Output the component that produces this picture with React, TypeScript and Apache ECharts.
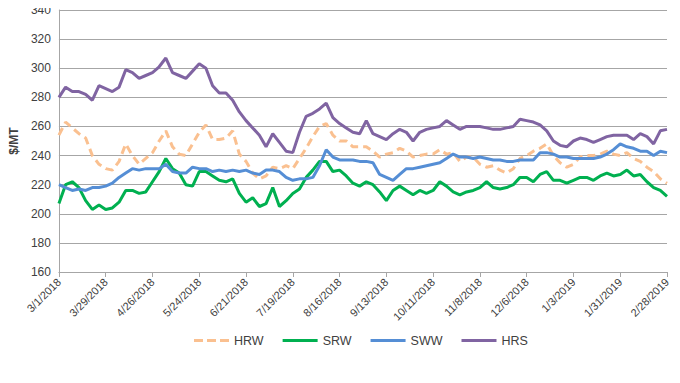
import React, { useEffect, useRef } from "react";
import * as echarts from "echarts";

// Day offsets from 3/1/2018 (sampled every 4 days)
const STEP = 4;
const days: number[] = Array.from({ length: 92 }, (_, i) => i * STEP);

const seriesNames = ["HRW", "SRW", "SWW", "HRS"];

const hrw = [
  254, 263, 259, 255, 252, 240, 234, 231, 230, 236,
  248, 240, 234, 238, 242, 250, 257, 246, 241, 240,
  248, 256, 261, 251, 251, 252, 257, 241, 236, 228,
  224, 226, 232, 231, 233, 231, 238, 245, 253, 260,
  262, 254, 250, 250, 246, 246, 246, 243, 239, 241,
  242, 245, 243, 239, 240, 241, 241, 244, 241, 242,
  236, 239, 239, 234, 232, 233, 230, 228, 231, 238,
  240, 243, 245, 248, 240, 235, 232, 234, 239, 240,
  240, 241, 243, 241, 240, 242, 238, 236, 232, 229,
  224, 221,
];

const srw = [
  207, 220, 222, 218, 209, 203, 206, 203, 204, 208,
  216, 216, 214, 215, 222, 229, 238, 231, 228, 220,
  219, 229, 229, 226, 223, 222, 224, 214, 208, 211,
  205, 207, 218, 205, 209, 214, 217, 225, 230, 236,
  236, 229, 230, 226, 221, 219, 222, 220, 215, 209,
  216, 219, 216, 213, 216, 214, 216, 222, 219, 215,
  213, 215, 216, 218, 222, 218, 217, 218, 220, 225,
  225, 222, 227, 229, 223, 223, 221, 223, 225, 225,
  223, 226, 228, 226, 227, 230, 226, 227, 222, 218,
  216, 212,
];

const sww = [
  220, 218, 216, 217, 216, 218, 218, 219, 221, 225,
  228, 231, 230, 231, 231, 231, 234, 229, 228, 228,
  232, 231, 231, 229, 230, 229, 230, 229, 230, 228,
  227, 230, 230, 229, 225, 223, 224, 224, 225, 233,
  244, 239, 237, 237, 237, 236, 236, 235, 227, 225,
  223, 227, 231, 231, 232, 233, 234, 235, 238, 241,
  239, 239, 238, 239, 238, 237, 237, 236, 236, 237,
  237, 237, 242, 242, 241, 239, 239, 238, 238, 238,
  238, 239, 241, 244, 248, 246, 245, 243, 243, 240,
  243, 242,
];

const hrs = [
  280, 287, 284, 284, 282, 278, 288, 286, 284, 287,
  299, 297, 293, 295, 297, 301, 307, 297, 295, 293,
  298, 303, 300, 288, 283, 283, 278, 270, 264, 259,
  254, 246, 255, 249, 243, 242, 256, 267, 269, 272,
  276, 266, 262, 259, 256, 255, 264, 255, 253, 251,
  255, 258, 256, 250, 256, 258, 259, 260, 264, 261,
  258, 260, 260, 260, 259, 258, 258, 259, 260, 265,
  264, 263, 261, 257, 250, 247, 246, 250, 252, 251,
  249, 251, 253, 254, 254, 254, 251, 255, 253, 248,
  257, 258,
];

const yTicks = { min: 160, max: 340, interval: 20 };
const xTicks = { min: 0, max: 364, interval: 28 };

const colors = ["#fac090", "#00b050", "#558ed5", "#8064a2"];

const DASH_ICON = "path://M0,0h9v3h-9z M13,0h9v3h-9z M26,0h9v3h-9z";
const SOLID_ICON = "path://M0,0h35v3h-35z";

function fmtDate(v: number): string {
  const t = Date.UTC(2018, 2, 1) + v * 86400000;
  const d = new Date(t);
  return `${d.getUTCMonth() + 1}/${d.getUTCDate()}/${d.getUTCFullYear()}`;
}

export default function App() {
  const ref = useRef<HTMLDivElement>(null);
  useEffect(() => {
    if (!ref.current) return;
    const chart = echarts.init(ref.current, undefined, { renderer: "svg" });
    const all = [hrw, srw, sww, hrs];
    const font = "'Liberation Sans', Arial, sans-serif";
    chart.setOption({
      animation: false,
      textStyle: { fontFamily: font },
      grid: { left: 52, right: 13, top: 10, bottom: 111, containLabel: false },
      legend: {
        bottom: 31,
        left: 189,
        itemWidth: 35,
        itemHeight: 4,
        itemGap: 19,
        textStyle: { fontFamily: font, fontSize: 12.5, color: "#404040" },
        data: seriesNames.map((n, k) => ({
          name: n,
          icon: k === 0 ? DASH_ICON : SOLID_ICON,
          itemStyle: { color: colors[k], borderWidth: 0 },
        })),
      },
      xAxis: {
        type: "value",
        min: xTicks.min,
        max: xTicks.max,
        interval: xTicks.interval,
        axisLine: { show: true, lineStyle: { color: "#a6a6a6", width: 1 } },
        axisTick: { show: true, length: 5, lineStyle: { color: "#a6a6a6" } },
        splitLine: { show: false },
        axisLabel: {
          rotate: 45,
          fontSize: 11,
          color: "#404040",
          fontFamily: font,
          margin: 8,
          showMinLabel: true,
          showMaxLabel: true,
          formatter: (v: number) => fmtDate(v),
        },
      },
      yAxis: {
        type: "value",
        min: yTicks.min,
        max: yTicks.max,
        interval: yTicks.interval,
        name: "$/MT",
        nameLocation: "middle",
        nameGap: 36,
        nameRotate: 90,
        nameTextStyle: { fontWeight: "bold", fontSize: 12, color: "#404040", fontFamily: font },
        axisLine: { show: true, lineStyle: { color: "#a6a6a6", width: 1 } },
        axisTick: { show: false },
        splitLine: { show: true, lineStyle: { color: "#a6a6a6", width: 1 } },
        axisLabel: { fontSize: 12, color: "#404040", fontFamily: font, margin: 8 },
      },
      series: seriesNames.map((name, k) => ({
        name,
        type: "line",
        data: days.map((d, i) => [d, all[k][i]]),
        showSymbol: false,
        symbol: "none",
        color: colors[k],
        lineStyle: {
          color: colors[k],
          width: 3,
          type: k === 0 ? [8, 5] : "solid",
        },
        z: k === 0 ? 1 : 2 + k,
      })),
    });
    return () => chart.dispose();
  }, []);
  return <div ref={ref} style={{ width: 680, height: 383, marginLeft: -8, marginTop: -8 }} />;
}
